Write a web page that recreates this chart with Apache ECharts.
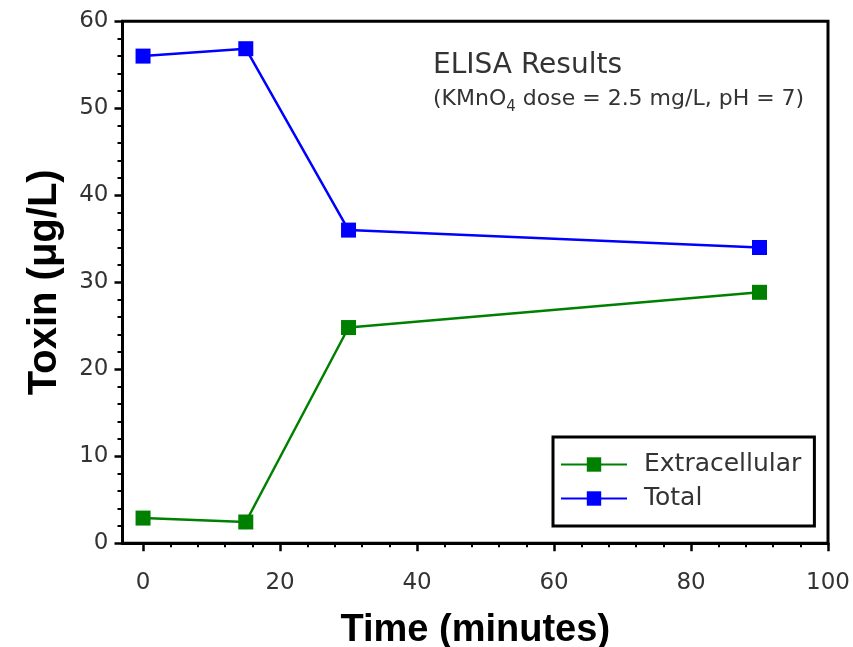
<!DOCTYPE html>
<html>
<head>
<meta charset="utf-8">
<script src="https://cdn.jsdelivr.net/npm/echarts@6/dist/echarts.min.js"></script>
<style>html,body{margin:0;padding:0;background:#fff}#c{width:853px;height:647px}</style>
</head>
<body>
<div id="c"></div>
<script>
// ---- data ----
const timeMinutes = [0, 15, 30, 90];
const extracellular = [2.9, 2.45, 24.8, 28.85];
const total = [56.0, 56.85, 36.0, 34.0];
const xMajorTicks = [0, 20, 40, 60, 80, 100];
const xMinorTicks = [4, 8, 12, 16, 24, 28, 32, 36, 44, 48, 52, 56, 64, 68, 72, 76, 84, 88, 92, 96];
const seriesNames = ['Extracellular', 'Total'];
const titleText = 'ELISA Results';
const xTitle = 'Time (minutes)';
const yTitle = 'Toxin (μg/L)';

const chart = echarts.init(document.getElementById('c'), null, {renderer: 'canvas'});
const tickFont = {fontFamily: 'DejaVu Sans', fontSize: 23, color: '#333'};
const option = {
  backgroundColor: '#fff',
  animation: false,
  title: [
    {text: titleText, left: 433, top: 52, padding: 0,
     textStyle: {fontFamily: 'DejaVu Sans', fontSize: 28, fontWeight: 'normal', color: '#333'}},
    {text: '{n|(KMnO}{s|4}{n| dose = 2.5 mg/L, pH = 7)}', left: 433, top: 83, padding: 0,
     textStyle: {fontWeight: 'normal', rich: {
       n: {fontFamily: 'DejaVu Sans', fontSize: 22, fontWeight: 'normal', color: '#333', lineHeight: 32, verticalAlign: 'middle'},
       s: {fontFamily: 'DejaVu Sans', fontSize: 15, fontWeight: 'normal', color: '#333', lineHeight: 32, verticalAlign: 'bottom'}
     }}}
  ],
  legend: {
    data: seriesNames, orient: 'vertical', left: 553, top: 437,
    padding: [15, 13, 15, 7], itemGap: 9, itemWidth: 66, itemHeight: 18,
    borderColor: '#000', borderWidth: 3, backgroundColor: '#fff',
    textStyle: {fontFamily: 'DejaVu Sans', fontSize: 25, color: '#333', padding: [0, 0, 0, 12]}
  },
  grid: {left: 122.5, right: 25, top: 21.3, bottom: 103.7, show: true, borderWidth: 3, borderColor: '#000', backgroundColor: '#fff', containLabel: false, outerBoundsMode: 'none'},
  xAxis: [
    {type: 'value', min: -3, max: 100, position: 'bottom',
     axisLine: {show: true, onZero: false, lineStyle: {color: '#000', width: 3}},
     axisTick: {show: true, customValues: xMajorTicks, length: 8, lineStyle: {color: '#000', width: 2.5}},
     axisLabel: Object.assign({customValues: xMajorTicks, margin: 28}, tickFont),
     splitLine: {show: false},
     name: xTitle, nameLocation: 'middle', nameGap: 68,
     nameTextStyle: {fontFamily: 'Liberation Sans', fontSize: 38, fontWeight: 'bold', color: '#000'}},
    {type: 'value', min: -3, max: 100, position: 'bottom',
     axisLine: {show: false, onZero: false},
     axisTick: {show: true, customValues: xMinorTicks, length: 4, lineStyle: {color: '#000', width: 2}},
     axisLabel: {show: false}, splitLine: {show: false}}
  ],
  yAxis: {
    type: 'value', min: 0, max: 60, interval: 10, position: 'left',
    axisLine: {show: true, onZero: false, lineStyle: {color: '#000', width: 3}},
    axisTick: {show: true, length: 8, lineStyle: {color: '#000', width: 2.5}},
    minorTick: {show: true, splitNumber: 5, length: 5, lineStyle: {color: '#000', width: 2}},
    axisLabel: Object.assign({margin: 14}, tickFont),
    splitLine: {show: false}, minorSplitLine: {show: false},
    name: yTitle, nameLocation: 'middle', nameGap: 58, nameRotate: 90,
    nameTextStyle: {fontFamily: 'Liberation Sans', fontSize: 40, fontWeight: 'bold', color: '#000'}
  },
  series: [
    {name: seriesNames[0], type: 'line', xAxisIndex: 0,
     data: timeMinutes.map((t, i) => [t, extracellular[i]]),
     symbol: 'rect', symbolSize: 15, color: '#008000',
     lineStyle: {color: '#008000', width: 2.5}, itemStyle: {color: '#008000'}},
    {name: seriesNames[1], type: 'line', xAxisIndex: 0,
     data: timeMinutes.map((t, i) => [t, total[i]]),
     symbol: 'rect', symbolSize: 15, color: '#0000ff',
     lineStyle: {color: '#0000ff', width: 2.5}, itemStyle: {color: '#0000ff'}}
  ]
};
chart.setOption(option);
</script>
</body>
</html>
